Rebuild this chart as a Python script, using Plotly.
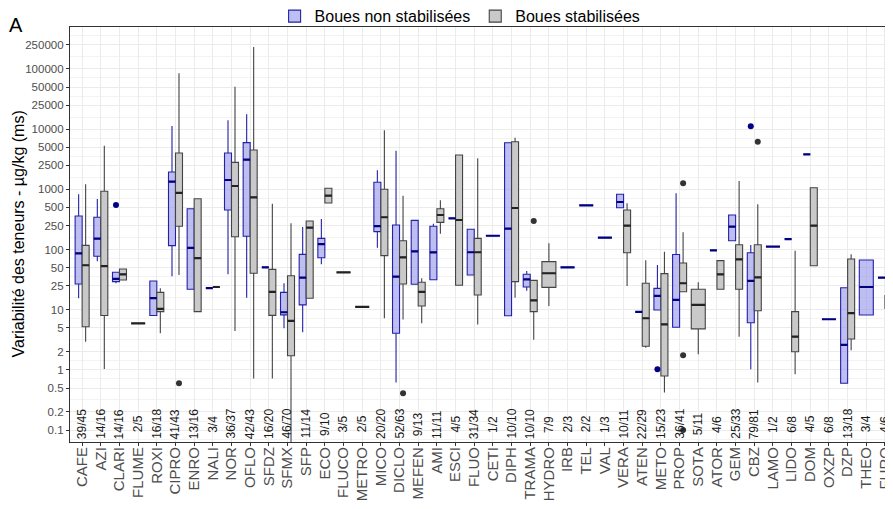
import math
import plotly.graph_objects as go

categories = ["CAFE", "AZI", "CLARI", "FLUME", "ROXI", "CIPRO", "ENRO", "NALI", "NOR", "OFLO",
              "SFDZ", "SFMX", "SFP", "ECO", "FLUCO", "METRO", "MICO", "DICLO", "MEFEN", "AMI",
              "ESCI", "FLUO", "CETI", "DIPH", "TRAMA", "HYDRO", "IRB", "TEL", "VAL", "VERA",
              "ATEN", "METO", "PROP", "SOTA", "ATOR", "GEM", "CBZ", "LAMO", "LIDO", "DOM",
              "OXZP", "DZP", "THEO", "FURO"]
counts = ["39/45", "14/16", "14/16", "2/5", "16/18", "41/43", "13/16", "3/4", "36/37", "42/43",
          "16/20", "46/70", "11/14", "9/10", "3/5", "2/5", "20/20", "52/63", "9/13", "11/11",
          "4/5", "31/34", "1/2", "10/10", "10/10", "7/9", "2/3", "2/2", "1/3", "10/11",
          "22/29", "15/23", "36/41", "5/11", "4/6", "25/33", "79/81", "1/2", "6/8", "4/5",
          "6/8", "13/18", "3/4", "4/6"]

# Boues non stabilisées (None = absent)
ns_low = [15.5, 64, 27.5, None, 8.0, 35.9, 21.8, 22.9, 38.7, 15.8,
          50.5, 4.9, 4.2, 56.7, None, None, 107, 0.62, 26.4, 30.8,
          330, 37.7, 169, 7.94, 20.7, None, 50.6, 542, 157, 494,
          9.2, 9.9, 5.1, None, 96.9, 140, 1.02, 112, 149, 3810,
          6.93, 0.6, 8.15, 34]
ns_q1 = [26.7, 77, 29.2, None, 8.0, 116, 21.8, 22.9, 453, 166,
         50.5, 8.2, 12, 73, None, None, 198, 4.05, 26.4, 31.5,
         330, 37.7, 169, 7.94, 23.8, None, 50.6, 542, 157, 494,
         9.2, 9.9, 5.1, None, 96.9, 140, 6.08, 112, 149, 3810,
         6.93, 0.6, 8.15, 34]
ns_med = [86.5, 151, 32.4, None, 15.6, 1337, 106, 22.9, 1427, 3100,
          50.5, 9.06, 34, 123, None, None, 245, 35.3, 93, 89.8,
          330, 90, 169, 222, 32, None, 50.6, 542, 157, 615,
          9.2, 16.9, 14.5, None, 96.9, 239, 30, 112, 149, 3810,
          6.93, 2.6, 23.8, 34]
ns_q3 = [360, 343, 41.8, None, 30, 1940, 476, 22.9, 4010, 5950,
         50.5, 19.4, 83, 153, None, None, 1307, 255, 305, 243,
         330, 217, 169, 5940, 38.7, None, 50.6, 542, 157, 826,
         9.2, 22.6, 82.6, None, 96.9, 374, 88.5, 112, 149, 3810,
         6.93, 23.2, 67, 34]
ns_high = [826, 690, 41.8, None, 30, 11250, 476, 22.9, 14000, 17600,
           50.5, 27.5, 237, 321, None, None, 2070, 4380, 305, 268,
           330, 217, 169, 5940, 44, None, 50.6, 542, 157, 826,
           9.2, 55.3, 859, None, 96.9, 374, 119, 112, 149, 3810,
           6.93, 23.2, 67, 34]

# Boues stabilisées (None = absent)
st_low = [2.94, 1.03, 31.1, 5.94, 4.05, 37.6, 9.3, 23.8, 4.43, 0.72,
          0.72, 0.03, 15.5, 592, 41.8, 11.1, 7.2, 6.9, 5.94, 183,
          25.4, 5.7, None, 15.8, 3.18, 11.5, None, None, None, 24.8,
          2.34, 0.42, 19.9, 1.82, 21.8, 3.56, 0.62, None, 0.85, 53.8,
          None, 2.11, None, 10.5]
st_q1 = [5.2, 8.0, 31.1, 5.94, 9.3, 243, 9.3, 23.8, 163, 40.3,
         8.04, 1.72, 15.5, 592, 41.8, 11.1, 79, 26.7, 11.5, 282,
         25.4, 17.5, None, 29.2, 9.3, 23.5, None, None, None, 88.5,
         2.47, 0.79, 19.9, 4.8, 21.8, 21.8, 9.6, None, 2.0, 53.8,
         None, 3.26, None, 10.5]
st_med = [54.7, 53, 38.7, 5.94, 10.3, 869, 72, 23.8, 1135, 736,
          19.7, 6.5, 230, 783, 41.8, 11.1, 343, 74, 19.7, 374,
          309, 90, None, 489, 14.3, 40.3, None, None, None, 249,
          7.2, 5.7, 27.5, 12, 38.7, 68.7, 34.5, None, 3.56, 249,
          None, 8.8, None, 13.6]
st_q3 = [117, 927, 47.4, 5.94, 19.4, 4010, 698, 23.8, 2800, 4500,
         46.8, 36.7, 297, 1038, 41.8, 11.1, 1000, 140, 28.5, 476,
         3720, 153, None, 6180, 30.7, 62.8, None, None, None, 453,
         27.5, 39.7, 59.7, 21.8, 65.3, 120, 120, None, 9.3, 1063,
         None, 69.5, None, 17.1]
st_high = [1211, 5290, 47.4, 5.94, 22.6, 84500, 698, 23.8, 50600, 231000,
           577, 272, 297, 1038, 41.8, 11.1, 9550, 783, 33.3, 657,
           3720, 3270, None, 7190, 30.7, 127, None, None, None, 585,
           66, 92, 193, 28.5, 65.3, 1374, 562, None, 95.6, 1063,
           None, 83.3, None, 17.1]

# Outliers
ns_out_cat = ["CLARI", "METO", "CBZ"]
ns_out_val = [548, 1.02, 11100]
st_out_cat = ["CIPRO", "DICLO", "TRAMA", "PROP", "PROP", "PROP", "CBZ"]
st_out_val = [0.6, 0.41, 297, 1258, 1.75, 0.1, 6180]

y_ticks = [0.1, 0.2, 0.5, 1, 2, 5, 10, 25, 50, 100, 250, 500, 1000, 2500, 5000,
           10000, 25000, 50000, 100000, 250000]
count_label_y = 0.126

BLUE_FILL = "rgba(150,150,235,0.62)"
BLUE_LINE = "#2222a8"
BLUE_MED = "#000080"
GREY_FILL = "#c9c9c9"
GREY_LINE = "#444444"
GREY_MED = "#222222"

NS = "Boues non stabilisées"
ST = "Boues stabilisées"

n = len(categories)
pair_idx = [i for i in range(n) if ns_med[i] is not None and st_med[i] is not None]
ns_single = [i for i in range(n) if ns_med[i] is not None and st_med[i] is None]
st_single = [i for i in range(n) if st_med[i] is not None and ns_med[i] is None]


def make_box(idxs, lo, q1, med, q3, hi, fill, line, og, ag, name, show):
    return go.Box(
        x=[categories[i] for i in idxs],
        q1=[q1[i] for i in idxs],
        median=[med[i] for i in idxs],
        q3=[q3[i] for i in idxs],
        lowerfence=[lo[i] for i in idxs],
        upperfence=[hi[i] for i in idxs],
        fillcolor=fill,
        line=dict(color=line, width=1.1),
        whiskerwidth=0,
        boxpoints=False,
        offsetgroup=og,
        alignmentgroup=ag,
        name=name,
        legendgroup=name,
        showlegend=show,
    )


def make_median(idxs, med, color, og, ag, name):
    # thicker median bar (ggplot's fattened median), drawn as a flat box at the median
    vals = [med[i] for i in idxs]
    return go.Box(
        x=[categories[i] for i in idxs],
        q1=vals, median=vals, q3=vals, lowerfence=vals, upperfence=vals,
        fillcolor="rgba(0,0,0,0)",
        line=dict(color=color, width=2.2),
        whiskerwidth=0, boxpoints=False,
        offsetgroup=og, alignmentgroup=ag,
        name=name, legendgroup=name, showlegend=False, hoverinfo="skip",
    )


fig = go.Figure()
fig.add_trace(make_box(pair_idx, ns_low, ns_q1, ns_med, ns_q3, ns_high, BLUE_FILL, BLUE_LINE,
                       "b", "pair", NS, True))
fig.add_trace(make_box(pair_idx, st_low, st_q1, st_med, st_q3, st_high, GREY_FILL, GREY_LINE,
                       "g", "pair", ST, True))
fig.add_trace(make_box(ns_single, ns_low, ns_q1, ns_med, ns_q3, ns_high, BLUE_FILL, BLUE_LINE,
                       "s", "single", NS, False))
fig.add_trace(make_box(st_single, st_low, st_q1, st_med, st_q3, st_high, GREY_FILL, GREY_LINE,
                       "s", "single", ST, False))
fig.add_trace(make_median(pair_idx, ns_med, BLUE_MED, "b", "pair", NS))
fig.add_trace(make_median(pair_idx, st_med, GREY_MED, "g", "pair", ST))
fig.add_trace(make_median(ns_single, ns_med, BLUE_MED, "s", "single", NS))
fig.add_trace(make_median(st_single, st_med, GREY_MED, "s", "single", ST))

fig.add_trace(go.Scatter(x=ns_out_cat, y=ns_out_val, mode="markers",
                         marker=dict(color="#00008b", size=6),
                         offsetgroup="b", alignmentgroup="pair", showlegend=False,
                         legendgroup=NS))
fig.add_trace(go.Scatter(x=st_out_cat, y=st_out_val, mode="markers",
                         marker=dict(color="#333333", size=6),
                         offsetgroup="g", alignmentgroup="pair", showlegend=False,
                         legendgroup=ST))

for c, t in zip(categories, counts):
    fig.add_annotation(x=c, y=math.log10(count_label_y), text=t, showarrow=False,
                       textangle=-90, xanchor="center", yanchor="middle",
                       font=dict(size=12, color="#1a1a1a"))

# y-axis title as rotated annotation
fig.add_annotation(xref="paper", yref="paper", x=-52 / 823, y=0.5,
                   text="Variabilité des teneurs - µg/kg (ms)", showarrow=False,
                   textangle=-90, xanchor="center", yanchor="middle",
                   font=dict(size=16, color="black"))

minor_vals = [math.sqrt(a * b) for a, b in zip(y_ticks[:-1], y_ticks[1:])]
minor_vals = [0.0707] + minor_vals + [353553]

FONT = "Liberation Sans, Arial, sans-serif"
# The page body adds an 8px offset, so the figure is sized 885x501 to fill the window.
fig.update_layout(
    width=885, height=501,
    margin=dict(l=62, r=0, t=19, b=67, autoexpand=False),
    paper_bgcolor="white", plot_bgcolor="white",
    font=dict(family=FONT),
    boxmode="group", boxgap=0.25, boxgroupgap=0,
    scattermode="group", scattergap=0.25,
    title=dict(text="A", x=1 / 885, xanchor="left", xref="container",
               y=1 - 17 / 501, yanchor="middle", yref="container",
               font=dict(size=20, color="black")),
    legend=dict(orientation="h", x=0.474, xanchor="center", y=0.985, yanchor="bottom",
                font=dict(size=16, color="black"), bgcolor="rgba(0,0,0,0)",
                traceorder="normal"),
    xaxis=dict(type="category", categoryorder="array", categoryarray=categories,
               tickmode="array", tickvals=categories, ticktext=categories,
               range=[-0.65, 43.43], tickangle=-90,
               tickfont=dict(size=15, color="#4d4d4d"), ticklabelstandoff=-5,
               showgrid=True, gridcolor="#ebebeb", gridwidth=1,
               showline=True, linecolor="#333333", linewidth=1.2, mirror=True,
               ticks="outside", ticklen=3, tickcolor="#333333", zeroline=False),
    yaxis=dict(type="log", range=[-1.198, 5.696],
               tickmode="array", tickvals=y_ticks, ticktext=[f"{v:g}" for v in y_ticks],
               tickfont=dict(size=11.5, color="#4d4d4d"),
               showgrid=True, gridcolor="#ebebeb", gridwidth=1,
               minor=dict(tickmode="array", tickvals=minor_vals, showgrid=True,
                          gridcolor="#f3f3f3", gridwidth=1, ticks=""),
               showline=True, linecolor="#333333", linewidth=1.2, mirror=False,
               ticks="outside", ticklen=3, tickcolor="#333333", zeroline=False),
)

fig.write_html("out.html")
